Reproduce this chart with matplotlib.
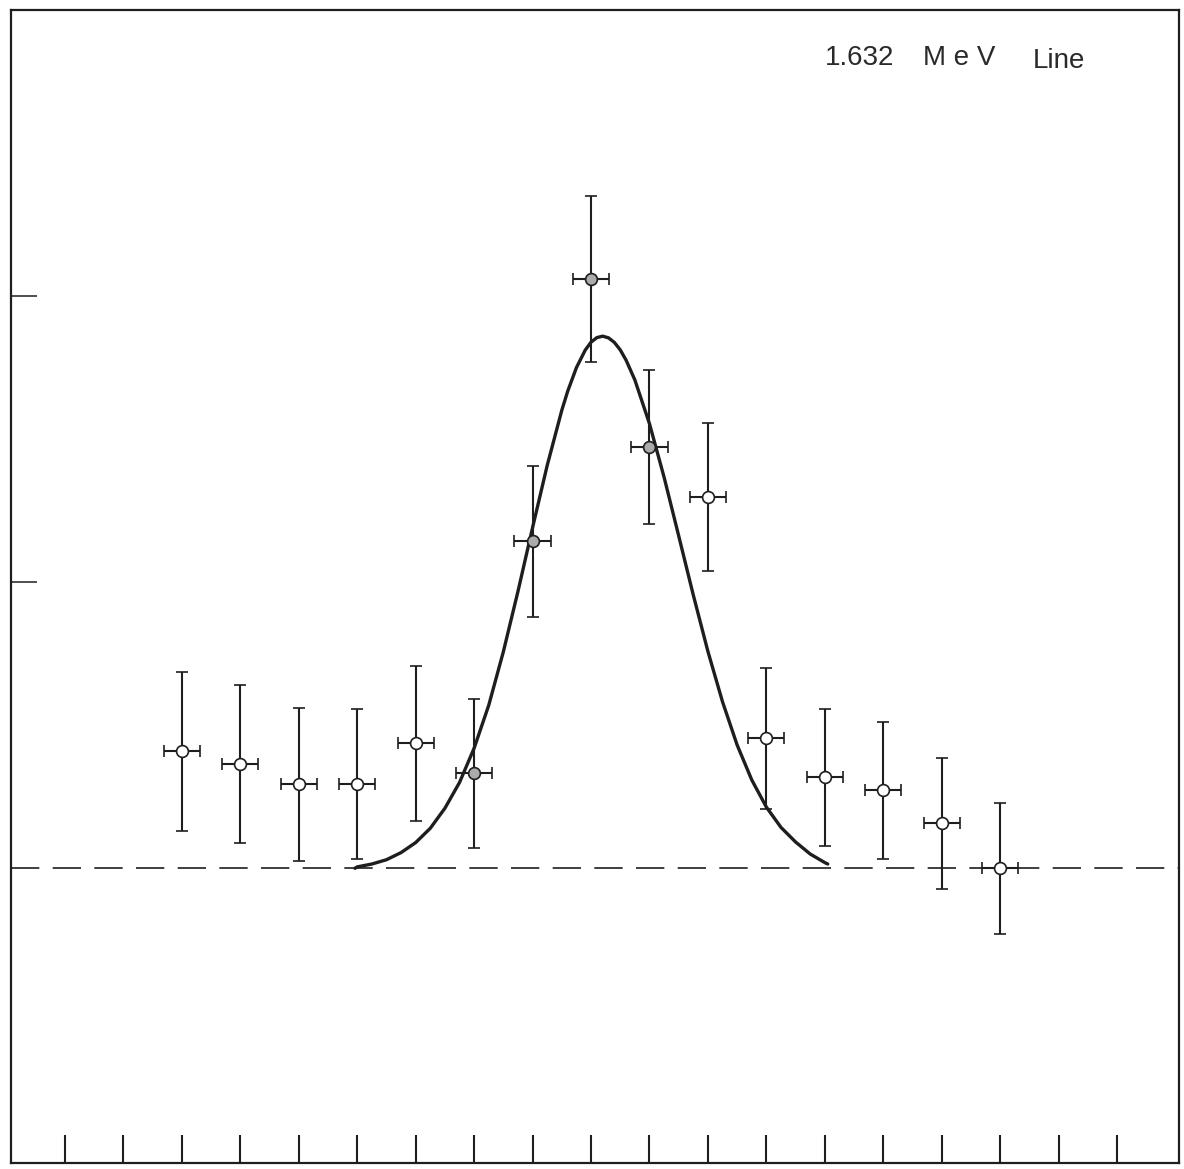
import numpy as np
import matplotlib
matplotlib.use("Agg")
import matplotlib.pyplot as plt

# channel positions (tick units) and measured counts with errors
channel = [2, 3, 4, 5, 6, 7, 8, 9, 10, 11, 12, 13, 14, 15, 16]
counts = [40.9, 36.4, 29.4, 29.4, 43.7, 33.2, 114.3, 205.9, 147.2, 129.7,
          45.5, 31.8, 27.3, 15.7, 0.0]
count_err = [27.8, 27.5, 26.7, 26.3, 27.0, 26.0, 26.4, 29.0, 27.0, 25.8,
             24.6, 24.0, 24.0, 23.0, 23.0]
channel_err = 0.31
# points lying on the peak are drawn with shaded markers
shaded = [False, False, False, False, False, True, True, True, True, False,
          False, False, False, False, False]

# fitted line shape
curve_x = [4.96, 5.0, 5.25, 5.5, 5.75, 6.0, 6.25, 6.5, 6.75, 7.0, 7.25, 7.5,
           7.75, 8.0, 8.25, 8.5, 8.6, 8.75, 8.9, 9.0, 9.1, 9.2, 9.3, 9.4,
           9.5, 9.6, 9.75, 10.0, 10.25, 10.5, 10.75, 11.0, 11.25, 11.5,
           11.75, 12.0, 12.25, 12.5, 12.75, 13.0, 13.05]
curve_y = [0.0, 0.5, 1.5, 3.0, 5.5, 9.0, 14.0, 21.0, 30.0, 42.0, 57.0, 75.7,
           96.8, 119.1, 140.8, 160.1, 166.7, 175.0, 181.1, 183.9, 185.5,
           186.0, 185.4, 183.8, 181.2, 177.6, 170.7, 155.4, 136.7, 116.2,
           95.5, 75.8, 58.2, 43.1, 30.9, 21.4, 14.3, 9.2, 5.0, 2.0, 1.5]

bottom_ticks = list(range(0, 19))
left_ticks = [100, 200]

ink = "#1e1e1e"

fig = plt.figure(figsize=(11.84, 11.69), dpi=100)
ax = fig.add_axes([11 / 1184, 6 / 1169, 1168 / 1184, 1153 / 1169])
ax.set_xlim(-0.924, 19.06)
ax.set_ylim(-103, 300)

for s in ax.spines.values():
    s.set_linewidth(1.6)
    s.set_color(ink)

ax.set_xticks(bottom_ticks)
ax.set_yticks(left_ticks)
ax.set_xticklabels([])
ax.set_yticklabels([])
ax.tick_params(axis="x", direction="in", length=20, width=1.5, color=ink)
ax.tick_params(axis="y", direction="in", length=19, width=1.1, color=ink)

# background level
ax.axhline(0, color=ink, lw=1.2, dashes=(17, 8), zorder=1)

ax.plot(curve_x, curve_y, color=ink, lw=2.4, solid_capstyle="round",
        solid_joinstyle="round", zorder=2)

for i in range(len(channel)):
    face = "#ababab" if shaded[i] else "white"
    ax.errorbar(channel[i], counts[i], yerr=count_err[i], xerr=channel_err,
                fmt="o", ms=8.5, mfc=face, mec=ink, mew=1.2,
                ecolor=ink, elinewidth=1.5, capsize=4.5, capthick=1.5,
                zorder=3)

txt = dict(fontsize=20, family="Liberation Sans", color="#2a2a2a", va="baseline")
ax.text(13.0, 280.8, "1.632", **txt)
ax.text(14.68, 280.8, "M e V", **txt)
ax.text(16.56, 279.7, "Line", **txt)

fig.savefig("out.png", dpi=100, facecolor="white")
